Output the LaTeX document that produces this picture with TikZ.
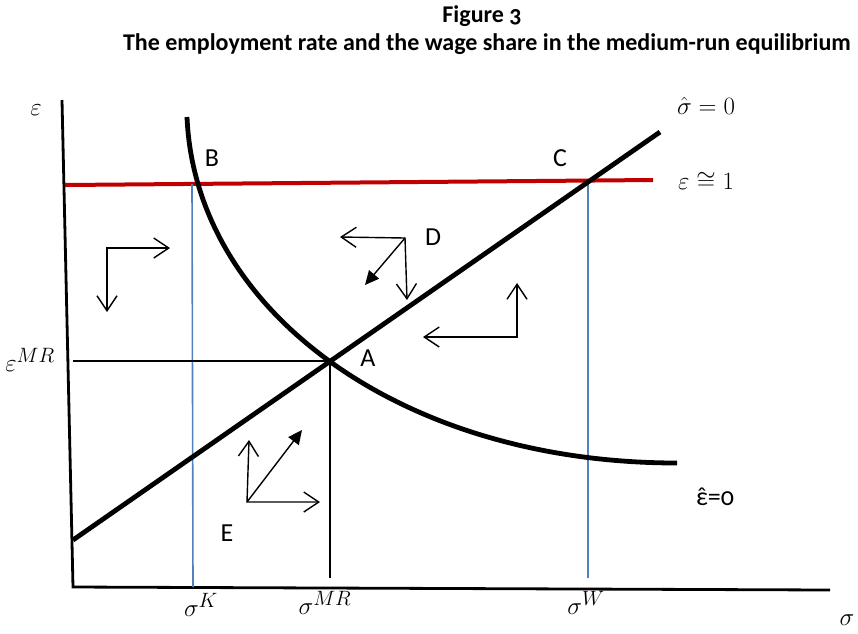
\documentclass[tikz,border=0pt]{standalone}
\usepackage{fontspec}
\setmainfont{Carlito}[Numbers=OldStyle]
\usepackage{amsmath,amssymb}
\usetikzlibrary{arrows.meta}

\begin{document}
\begin{tikzpicture}[x=1pt, y=-1pt, >={Straight Barb[length=15pt,width=20pt]},
    axis/.style={line width=2.8pt},
    curve/.style={line width=4.8pt},
    guide/.style={line width=1.6pt, draw=guideblue},
    refline/.style={line width=1.2pt},
    dirarrow/.style={<->, line width=1.4pt},
    fullarrow/.style={-{Triangle[length=14pt,width=13pt]}, line width=1.4pt},
    lbl/.style={font=\fontsize{26}{28}\selectfont},
    mlbl/.style={font=\fontsize{24.88}{28}\selectfont},
    ttl/.style={font=\fontsize{24}{28}\selectfont\bfseries}]
      \definecolor{guideblue}{RGB}{79,129,189} \definecolor{eqred}{RGB}{192,0,0}
      \useasboundingbox (0,0) rectangle (858,633);
      \node[ttl] (fignum) at (482,16) {Figure 3};
      \node[ttl] (figtitle) at (487,44) {The employment rate and the wage share in the medium-run equilibrium};
      \coordinate (O) at (73,587); \coordinate (ytop) at (62,100); \coordinate (xend) at (830,590);
      \draw[axis] (ytop) -- (O) -- (xend);
      \coordinate (redL) at (65,185); \coordinate (redR) at (653,180);
      \draw[line width=4pt, draw=eqred] (redL) -- (redR);
      \coordinate (Bpt) at (192,184); \coordinate (sK) at (193,587);
      \coordinate (Cpt) at (588,181); \coordinate (sW) at (588,578);
      \draw[guide] (Bpt) -- (sK);
      \draw[guide] (Cpt) -- (sW);
      \coordinate (Apt) at (330,361); \coordinate (eMR) at (73,361); \coordinate (sMR) at (330,578);
      \draw[refline] (eMR) -- (Apt) -- (sMR);
      \coordinate (sigLo) at (73,540); \coordinate (sigHi) at (660,132);
      \draw[curve] (sigLo) -- (sigHi);
      \coordinate (epsTop) at (187,117); \coordinate (epsEnd) at (677,463);
      \draw[curve] (epsTop) .. controls (195,310) and (400,463) .. (epsEnd);
      \node[lbl] (labB) at (212,158) {B};
      \node[lbl] (labC) at (560,158) {C};
      \node[lbl] (labD) at (433,237) {D};
      \node[lbl] (labA) at (368,358) {A};
      \node[lbl] (labE) at (227,533) {E};
      \node[mlbl] (yname) at (36,110) {$\varepsilon$};
      \node[mlbl] (yMR) at (30,360) {$\varepsilon^{MR}$};
      \node[mlbl] (xK) at (201,605) {$\sigma^{K}$};
      \node[mlbl] (xMR) at (325,603) {$\sigma^{MR}$};
      \node[mlbl] (xW) at (586,603) {$\sigma^{W}$};
      \node[mlbl] (xname) at (847,620) {$\sigma$};
      \node[mlbl] (sigZero) at (706,106) {$\hat{\sigma}=0$};
      \node[mlbl] (epsOne) at (706,181) {$\varepsilon\cong 1$};
      \node[lbl] (epsZero) at (715,497) {{\accent"02C6 ε}=0};
      \coordinate (g1) at (107,248); \coordinate (g1R) at (170,248); \coordinate (g1D) at (107,312);
      \draw[dirarrow] (g1D) -- (g1) -- (g1R);
      \coordinate (Dorg) at (405,238); \coordinate (DL) at (340,237); \coordinate (DD) at (407,300); \coordinate (Dd) at (365,285);
      \draw[dirarrow] (DL) -- (Dorg) -- (DD);
      \draw[fullarrow] (Dorg) -- (Dd);
      \coordinate (g3) at (517,337); \coordinate (g3U) at (517,283); \coordinate (g3L) at (423,337);
      \draw[dirarrow] (g3L) -- (g3) -- (g3U);
      \coordinate (Eorg) at (247,502); \coordinate (EU) at (249,440); \coordinate (ER) at (320,502); \coordinate (Ed) at (302,430);
      \draw[dirarrow] (EU) -- (Eorg) -- (ER);
      \draw[fullarrow] (Eorg) -- (Ed);
    \end{tikzpicture}
\end{document}
